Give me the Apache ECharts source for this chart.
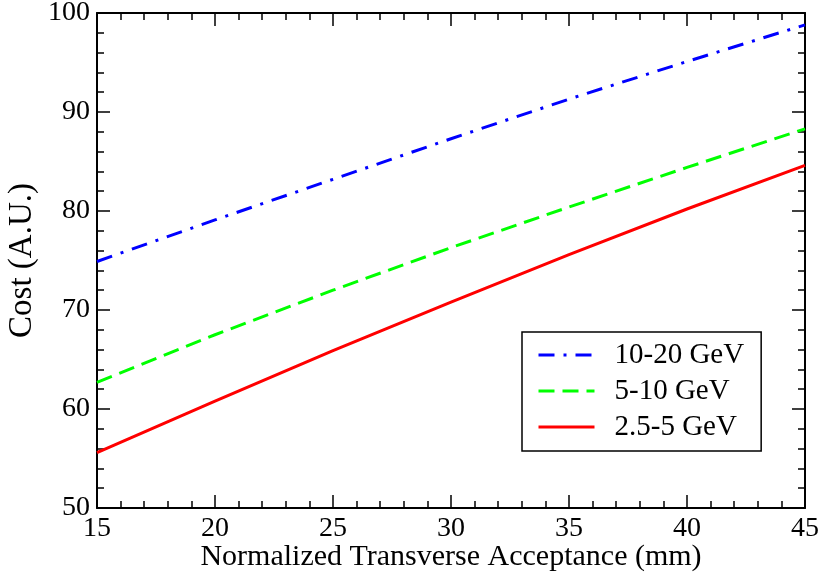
<!DOCTYPE html>
<html>
<head>
<meta charset="utf-8">
<script src="https://cdn.jsdelivr.net/npm/echarts@6/dist/echarts.min.js"></script>
<style>html,body{margin:0;padding:0;background:#fff;}#c{width:819px;height:575px;}</style>
</head>
<body>
<div id="c"></div>
<script>
const xValues = [15, 20, 25, 30, 35, 40, 45];
const seriesNames = ['10-20 GeV', '5-10 GeV', '2.5-5 GeV'];
const blueValues = [74.9, 79.1, 83.2, 87.3, 91.3, 95.1, 98.8];
const greenValues = [62.7, 67.5, 72.0, 76.3, 80.4, 84.4, 88.3];
const redValues = [55.6, 60.8, 65.9, 70.8, 75.6, 80.2, 84.6];
const xTitle = 'Normalized Transverse Acceptance (mm)';
const yTitle = 'Cost (A.U.)';

const font = 'Liberation Serif';
const chart = echarts.init(document.getElementById('c'), null, {renderer: 'canvas'});
const pair = (vals) => xValues.map((x, i) => [x, vals[i]]);

const axisCommon = {
  axisLine: {show: true, onZero: false, lineStyle: {color: '#000', width: 2}},
  axisTick: {show: true, inside: true, length: 13, lineStyle: {color: '#000', width: 1.5}},
  minorTick: {show: true, splitNumber: 5, length: 7, lineStyle: {color: '#000', width: 1.5}},
  splitLine: {show: false},
  minorSplitLine: {show: false}
};

const xBase = Object.assign({type: 'value', min: 15, max: 45, interval: 5}, axisCommon);
const yBase = Object.assign({type: 'value', min: 50, max: 100, interval: 10}, axisCommon);

chart.setOption({
  backgroundColor: '#fff',
  animation: false,
  grid: {left: 97, right: 14, top: 13, bottom: 67, containLabel: false, outerBoundsMode: 'none'},
  xAxis: [
    Object.assign({}, xBase, {
      position: 'bottom',
      name: xTitle, nameLocation: 'middle', nameGap: 34, nameMoveOverlap: false,
      nameTextStyle: {fontFamily: font, fontSize: 30, color: '#000'},
      axisLabel: {fontFamily: font, fontSize: 28, color: '#000', margin: 7}
    }),
    Object.assign({}, xBase, {position: 'top', axisLabel: {show: false}})
  ],
  yAxis: [
    Object.assign({}, yBase, {
      position: 'left',
      name: yTitle, nameLocation: 'middle', nameGap: 58, nameRotate: 90, nameMoveOverlap: false,
      nameTextStyle: {fontFamily: font, fontSize: 33, color: '#000'},
      axisLabel: {fontFamily: font, fontSize: 28, color: '#000', margin: 7}
    }),
    Object.assign({}, yBase, {position: 'right', axisLabel: {show: false}})
  ],
  legend: {
    show: true,
    left: 522, top: 332,
    orient: 'vertical',
    backgroundColor: '#fff',
    borderColor: '#000', borderWidth: 1.5,
    padding: [8, 17, 9, 15],
    itemWidth: 56, itemHeight: 14, itemGap: 6,
    itemStyle: {opacity: 0, borderWidth: 0},
    lineStyle: {width: 3},
    textStyle: {fontFamily: font, fontSize: 29, lineHeight: 30, color: '#000', padding: [0, 0, 0, 15]},
    data: seriesNames
  },
  series: [
    {name: seriesNames[0], type: 'line', data: pair(blueValues), showSymbol: false, symbol: 'none',
     lineStyle: {color: '#0000ff', width: 3, type: [16, 9, 3, 9]}, itemStyle: {color: '#0000ff'}},
    {name: seriesNames[1], type: 'line', data: pair(greenValues), showSymbol: false, symbol: 'none',
     lineStyle: {color: '#00ff00', width: 3, type: [16, 8]}, itemStyle: {color: '#00ff00'}},
    {name: seriesNames[2], type: 'line', data: pair(redValues), showSymbol: false, symbol: 'none',
     lineStyle: {color: '#ff0000', width: 3, type: 'solid'}, itemStyle: {color: '#ff0000'}}
  ]
});
</script>
</body>
</html>
